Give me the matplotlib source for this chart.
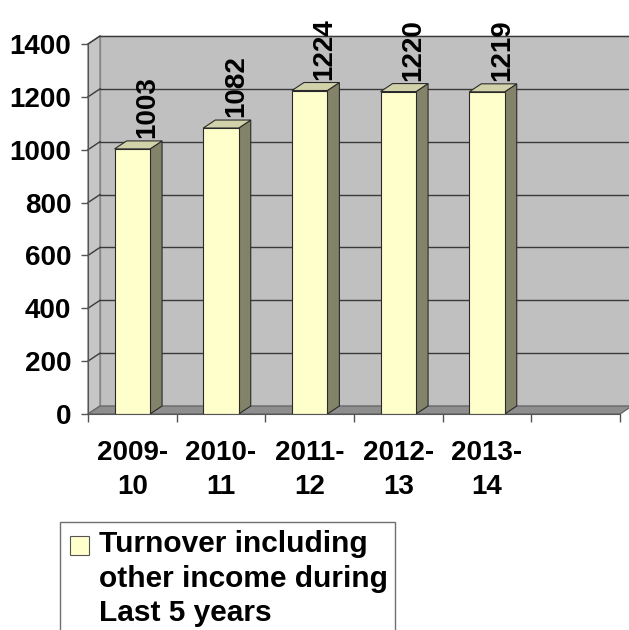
import matplotlib
matplotlib.use("Agg")
import matplotlib.pyplot as plt
from matplotlib.patches import Polygon, Rectangle

# ---- data ----
categories = ["2009-\n10", "2010-\n11", "2011-\n12", "2012-\n13", "2013-\n14", ""]
values = [1003, 1082, 1224, 1220, 1219]
yticks = [0, 200, 400, 600, 800, 1000, 1200, 1400]
legend_label = "Turnover including\nother income during\nLast 5 years"

plt.rcParams['font.family'] = ['Liberation Sans', 'DejaVu Sans']

W, H = 629, 630
fig = plt.figure(figsize=(W / 100, H / 100), dpi=100)
left_px, right_px, bottom_px, top_px = 88, 620, 414, 44
ax = fig.add_axes([left_px / W, 1 - bottom_px / H,
                   (right_px - left_px) / W, (bottom_px - top_px) / H])
ncat = len(categories)
ax.set_xlim(-0.5, ncat - 0.5)
ax.set_ylim(0, 1400)
ax.patch.set_visible(False)

# depth offset (pixels -> data units)
dx_px, dy_px = 12, 8
dx = dx_px * ncat / (right_px - left_px)
dy = dy_px * 1400 / (bottom_px - top_px)

x0, x1 = -0.5, ncat - 0.5
ymax = 1400
# back wall
ax.add_patch(Polygon([(x0 + dx, dy), (x1 + dx, dy), (x1 + dx, ymax + dy), (x0 + dx, ymax + dy)],
                     closed=True, facecolor="#C0C0C0", edgecolor="#9a9a9a", lw=1, clip_on=False, zorder=0))
# side wall
ax.add_patch(Polygon([(x0, 0), (x0 + dx, dy), (x0 + dx, ymax + dy), (x0, ymax)],
                     closed=True, facecolor="#C6C6C6", edgecolor="#808080", lw=1, clip_on=False, zorder=0.5))
# floor
ax.add_patch(Polygon([(x0, 0), (x1, 0), (x1 + dx, dy), (x0 + dx, dy)],
                     closed=True, facecolor="#8E8E8E", edgecolor="#6a6a6a", lw=1, clip_on=False, zorder=0.6))
# gridlines
for v in yticks[1:]:
    ax.plot([x0 + dx, x1 + dx], [v + dy, v + dy], color="#3a3a3a", lw=1, zorder=0.7, clip_on=False)
    ax.plot([x0, x0 + dx], [v, v + dy], color="#3a3a3a", lw=1, zorder=0.7, clip_on=False)

# bars
w = 0.40
for i, v in enumerate(values):
    xl, xr = i - w / 2, i + w / 2
    ax.add_patch(Polygon([(xr, 0), (xr + dx, dy), (xr + dx, v + dy), (xr, v)],
                         closed=True, facecolor="#83836A", edgecolor="#2a2a2a", lw=0.8, zorder=2, clip_on=False))
    ax.add_patch(Polygon([(xl, v), (xr, v), (xr + dx, v + dy), (xl + dx, v + dy)],
                         closed=True, facecolor="#D2D2AA", edgecolor="#2a2a2a", lw=0.8, zorder=2, clip_on=False))
    ax.add_patch(Rectangle((xl, 0), w, v, facecolor="#FFFFCC", edgecolor="#2a2a2a", lw=0.8, zorder=3))
    ax.text(i + 0.17, v + 40, str(v), rotation=90, ha="center", va="bottom",
            fontsize=20, fontweight="bold", color="black", zorder=5, clip_on=False)

# axes styling
for s in ["top", "right"]:
    ax.spines[s].set_visible(False)
ax.spines["left"].set_color("#555555")
ax.spines["bottom"].set_color("#555555")
ax.spines["left"].set_zorder(4)
ax.spines["bottom"].set_zorder(4)

ax.set_yticks(yticks)
ax.set_yticklabels([str(t) for t in yticks], fontsize=20, fontweight="bold")
ax.tick_params(axis="y", direction="out", length=5, width=1, color="#555555", pad=7)

ax.set_xticks(range(ncat))
ax.set_xticklabels(categories, fontsize=20, fontweight="bold", linespacing=1.4)
ax.tick_params(axis="x", which="major", length=0, pad=19)
ax.set_xticks([k - 0.5 for k in range(ncat + 1)], minor=True)
ax.tick_params(axis="x", which="minor", direction="out", length=6, width=1, color="#555555")

# legend (drawn manually: frame, key square aligned with the first line, text)
fig.patches.append(Rectangle((60 / W, -0.05), (395 - 60) / W, (1 - 522 / H) + 0.05,
                             transform=fig.transFigure, facecolor="white",
                             edgecolor="#707070", lw=1, zorder=1))
fig.patches.append(Rectangle((70 / W, 1 - 555 / H), 19 / W, 19 / H,
                             transform=fig.transFigure, facecolor="#FFFFCC",
                             edgecolor="#555555", lw=0.8, zorder=2))
fig.text(99 / W, 1 - 530 / H, legend_label, ha="left", va="top",
         fontsize=21.5, fontweight="bold", linespacing=1.3, zorder=3)

fig.savefig("out.png", dpi=100)
